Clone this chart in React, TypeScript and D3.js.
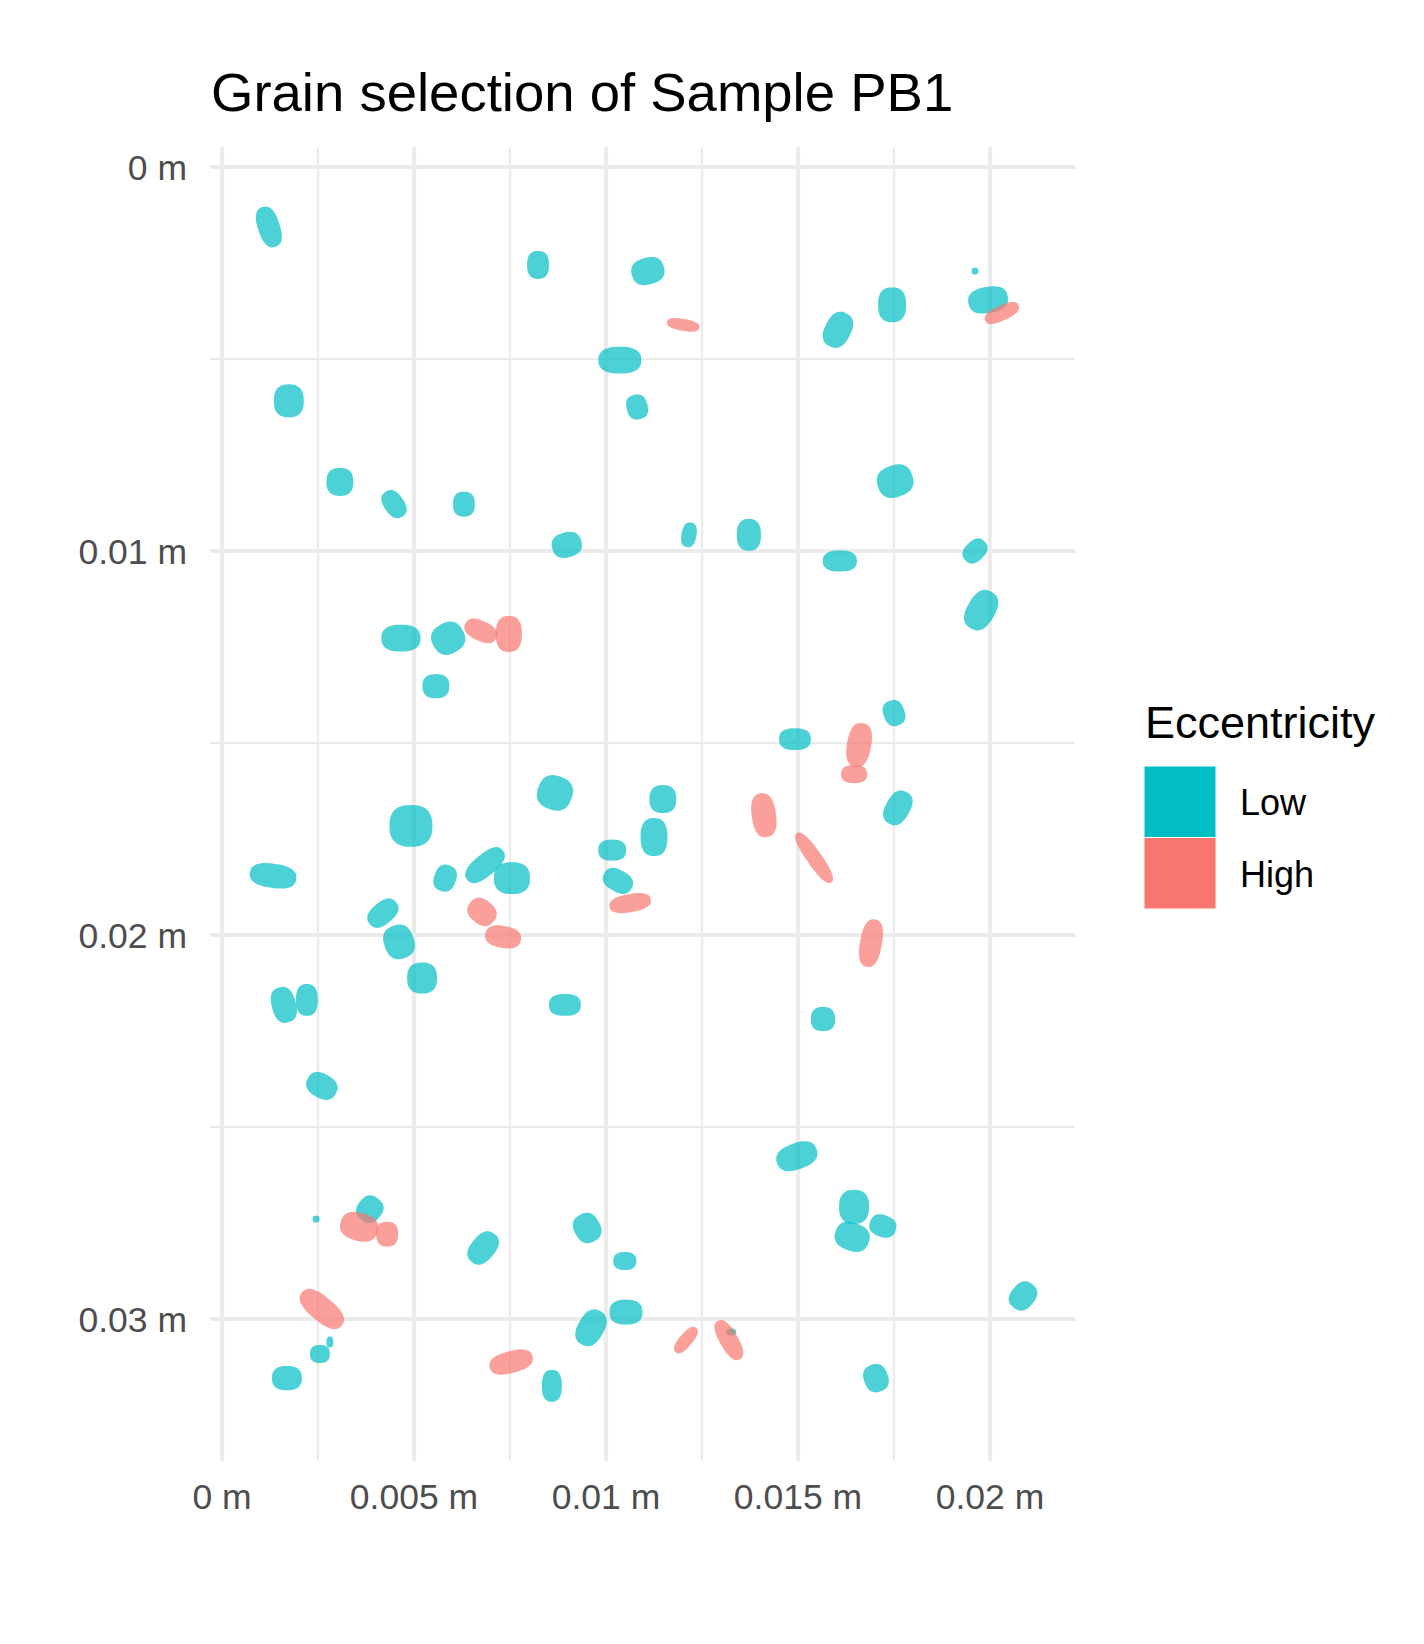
import React from 'react';
import * as d3 from 'd3';

// grains in mm: [x, y, width, height, rotation in degrees]
const lowGrains: number[][] = [
  [1.22, 1.56, 1.09, 0.57, 72],
  [8.23, 2.55, 0.57, 0.73, 0],
  [10.36, 5.03, 1.12, 0.7, 0],
  [10.81, 6.25, 0.55, 0.65, -15],
  [1.74, 6.09, 0.78, 0.86, 0],
  [3.07, 8.2, 0.7, 0.73, 0],
  [4.48, 8.78, 0.78, 0.52, 55],
  [6.3, 8.78, 0.57, 0.65, 0],
  [8.98, 9.84, 0.78, 0.65, -15],
  [11.09, 2.71, 0.86, 0.7, -15],
  [16.04, 4.24, 0.96, 0.68, -63],
  [17.45, 3.59, 0.73, 0.91, 0],
  [19.61, 2.71, 0.18, 0.18, 0],
  [19.95, 3.46, 1.04, 0.68, -10],
  [17.53, 8.18, 0.94, 0.83, -20],
  [12.16, 9.58, 0.39, 0.65, 10],
  [13.72, 9.58, 0.63, 0.83, 0],
  [16.09, 10.26, 0.89, 0.55, 0],
  [19.61, 10.0, 0.7, 0.52, -45],
  [19.77, 11.54, 1.09, 0.73, -60],
  [4.66, 12.27, 1.02, 0.7, 0],
  [5.89, 12.27, 0.86, 0.81, -30],
  [5.57, 13.52, 0.7, 0.63, 0],
  [8.67, 16.3, 0.91, 0.89, 20],
  [4.92, 17.16, 1.12, 1.09, 0],
  [1.33, 18.46, 1.22, 0.63, 8],
  [5.81, 18.52, 0.57, 0.7, 20],
  [6.85, 18.18, 1.2, 0.57, -40],
  [7.55, 18.52, 0.94, 0.83, 0],
  [10.16, 17.79, 0.73, 0.55, 0],
  [10.31, 18.59, 0.81, 0.57, 30],
  [4.19, 19.43, 0.89, 0.57, -40],
  [4.61, 20.18, 0.78, 0.89, -20],
  [5.21, 21.12, 0.78, 0.81, 0],
  [1.61, 21.82, 0.63, 0.94, -15],
  [2.21, 21.69, 0.57, 0.83, 0],
  [8.93, 21.82, 0.83, 0.57, 0],
  [17.5, 14.22, 0.55, 0.68, -20],
  [14.92, 14.9, 0.83, 0.57, 0],
  [11.48, 16.46, 0.7, 0.73, 0],
  [11.25, 17.45, 0.7, 0.99, 0],
  [17.6, 16.69, 0.94, 0.63, -60],
  [15.65, 22.19, 0.63, 0.63, 0],
  [2.6, 23.93, 0.83, 0.63, 30],
  [3.85, 27.14, 0.65, 0.7, 40],
  [2.45, 27.4, 0.18, 0.18, 0],
  [6.8, 28.15, 0.94, 0.63, -50],
  [9.51, 27.63, 0.68, 0.78, -30],
  [10.49, 28.49, 0.6, 0.47, 0],
  [2.81, 30.6, 0.18, 0.29, 0],
  [2.55, 30.91, 0.52, 0.47, 0],
  [1.69, 31.54, 0.78, 0.63, 0],
  [8.59, 31.74, 0.52, 0.83, 0],
  [9.61, 30.23, 0.99, 0.68, -60],
  [10.52, 29.82, 0.86, 0.65, 0],
  [14.97, 25.76, 1.09, 0.68, -20],
  [16.46, 27.08, 0.78, 0.89, 0],
  [16.41, 27.86, 0.91, 0.73, 20],
  [17.21, 27.58, 0.7, 0.57, 20],
  [20.86, 29.4, 0.78, 0.63, -50],
  [13.26, 30.34, 0.26, 0.18, 0],
  [17.03, 31.54, 0.63, 0.73, -20],
];

const highGrains: number[][] = [
  [12.01, 4.11, 0.86, 0.31, 10],
  [20.31, 3.8, 0.96, 0.39, -25],
  [6.74, 12.08, 0.89, 0.52, 25],
  [7.47, 12.16, 0.68, 0.94, 0],
  [10.63, 19.17, 1.09, 0.47, -10],
  [6.77, 19.4, 0.78, 0.63, 40],
  [7.32, 20.05, 0.94, 0.57, 10],
  [16.59, 15.05, 0.63, 1.15, 10],
  [16.46, 15.81, 0.68, 0.47, 0],
  [14.11, 16.88, 0.63, 1.15, -8],
  [15.42, 17.99, 1.56, 0.39, 55],
  [16.9, 20.21, 0.57, 1.25, 10],
  [3.57, 27.6, 0.99, 0.73, 15],
  [4.3, 27.79, 0.57, 0.65, 0],
  [2.6, 29.74, 1.35, 0.63, 40],
  [7.53, 31.12, 1.15, 0.57, -15],
  [12.08, 30.55, 0.83, 0.34, -50],
  [13.2, 30.55, 1.15, 0.47, 60],
];

const xMajor = [0, 0.005, 0.01, 0.015, 0.02];
const xMinor = [0.0025, 0.0075, 0.0125, 0.0175];
const yMajor = [0, 0.01, 0.02, 0.03];
const yMinor = [0.005, 0.015, 0.025];
const tickLabel = (v: number) => `${+v.toFixed(4)} m`;

const categories = ['Low', 'High'];
const colors = ['#00BFC4', '#F8766D'];

const W = 1424;
const H = 1644;
const font = '"Liberation Sans", Arial, Helvetica, sans-serif';

// outline of a grain: a squarish (superellipse) blob
const outline = d3.range(48).map(k => {
  const t = (k / 48) * 2 * Math.PI;
  const c = Math.cos(t), s = Math.sin(t);
  return [Math.sign(c) * Math.pow(Math.abs(c), 0.8), Math.sign(s) * Math.pow(Math.abs(s), 0.8)];
});
const blob = d3.line().curve(d3.curveLinearClosed);

const App = () => {
  const x = d3.scaleLinear().domain([0, 0.02]).range([222, 990]);
  const y = d3.scaleLinear().domain([0, 0.03]).range([167, 1319]);
  const panel = { left: 210, right: 1075, top: 147, bottom: 1461 };

  const grain = (g: number[], fill: string, i: number) => {
    const cx = x(g[0] / 1000);
    const cy = y(g[1] / 1000);
    const a = (x(g[2] / 1000) - x(0)) / 2;
    const b = (y(g[3] / 1000) - y(0)) / 2;
    const pts = outline.map(p => [p[0] * a, p[1] * b] as [number, number]);
    return (
      <path key={fill + i} d={blob(pts) || ''}
        transform={`translate(${cx},${cy}) rotate(${g[4]})`}
        fill={fill} fillOpacity={0.7} />
    );
  };

  return (
    <svg width={W} height={H} style={{ position: 'absolute', left: 0, top: 0, background: '#fff' }}
      fontFamily={font}>
      <rect width={W} height={H} fill="#fff" />
      {/* minor grid */}
      {xMinor.map(v => (
        <line key={'xm' + v} x1={x(v)} x2={x(v)} y1={panel.top} y2={panel.bottom}
          stroke="#EBEBEB" strokeWidth={2.2} />
      ))}
      {yMinor.map(v => (
        <line key={'ym' + v} x1={panel.left} x2={panel.right} y1={y(v)} y2={y(v)}
          stroke="#EBEBEB" strokeWidth={2.2} />
      ))}
      {/* major grid */}
      {xMajor.map(v => (
        <line key={'xM' + v} x1={x(v)} x2={x(v)} y1={panel.top} y2={panel.bottom}
          stroke="#EBEBEB" strokeWidth={4.2} />
      ))}
      {yMajor.map(v => (
        <line key={'yM' + v} x1={panel.left} x2={panel.right} y1={y(v)} y2={y(v)}
          stroke="#EBEBEB" strokeWidth={4.2} />
      ))}

      {lowGrains.map((g, i) => grain(g, colors[0], i))}
      {highGrains.map((g, i) => grain(g, colors[1], i))}

      {/* axis labels */}
      {yMajor.map(v => (
        <text key={'yl' + v} x={187} y={y(v) + 13} textAnchor="end"
          fontSize={35.5} fill="#4D4D4D">{tickLabel(v)}</text>
      ))}
      {xMajor.map(v => (
        <text key={'xl' + v} x={x(v)} y={1509} textAnchor="middle"
          fontSize={35.5} fill="#4D4D4D">{tickLabel(v)}</text>
      ))}

      <text x={211} y={111} fontSize={54.5} fill="#000">Grain selection of Sample PB1</text>

      {/* legend */}
      <text x={1145} y={738} fontSize={45} fill="#000">Eccentricity</text>
      {categories.map((c, i) => (
        <g key={c}>
          <rect x={1144} y={766 + i * 71.5} width={72} height={71.5}
            fill={colors[i]} stroke="#fff" strokeWidth={1} />
          <text x={1240} y={766 + i * 71.5 + 49} fontSize={36} fill="#000">{c}</text>
        </g>
      ))}
    </svg>
  );
};

export default App;
